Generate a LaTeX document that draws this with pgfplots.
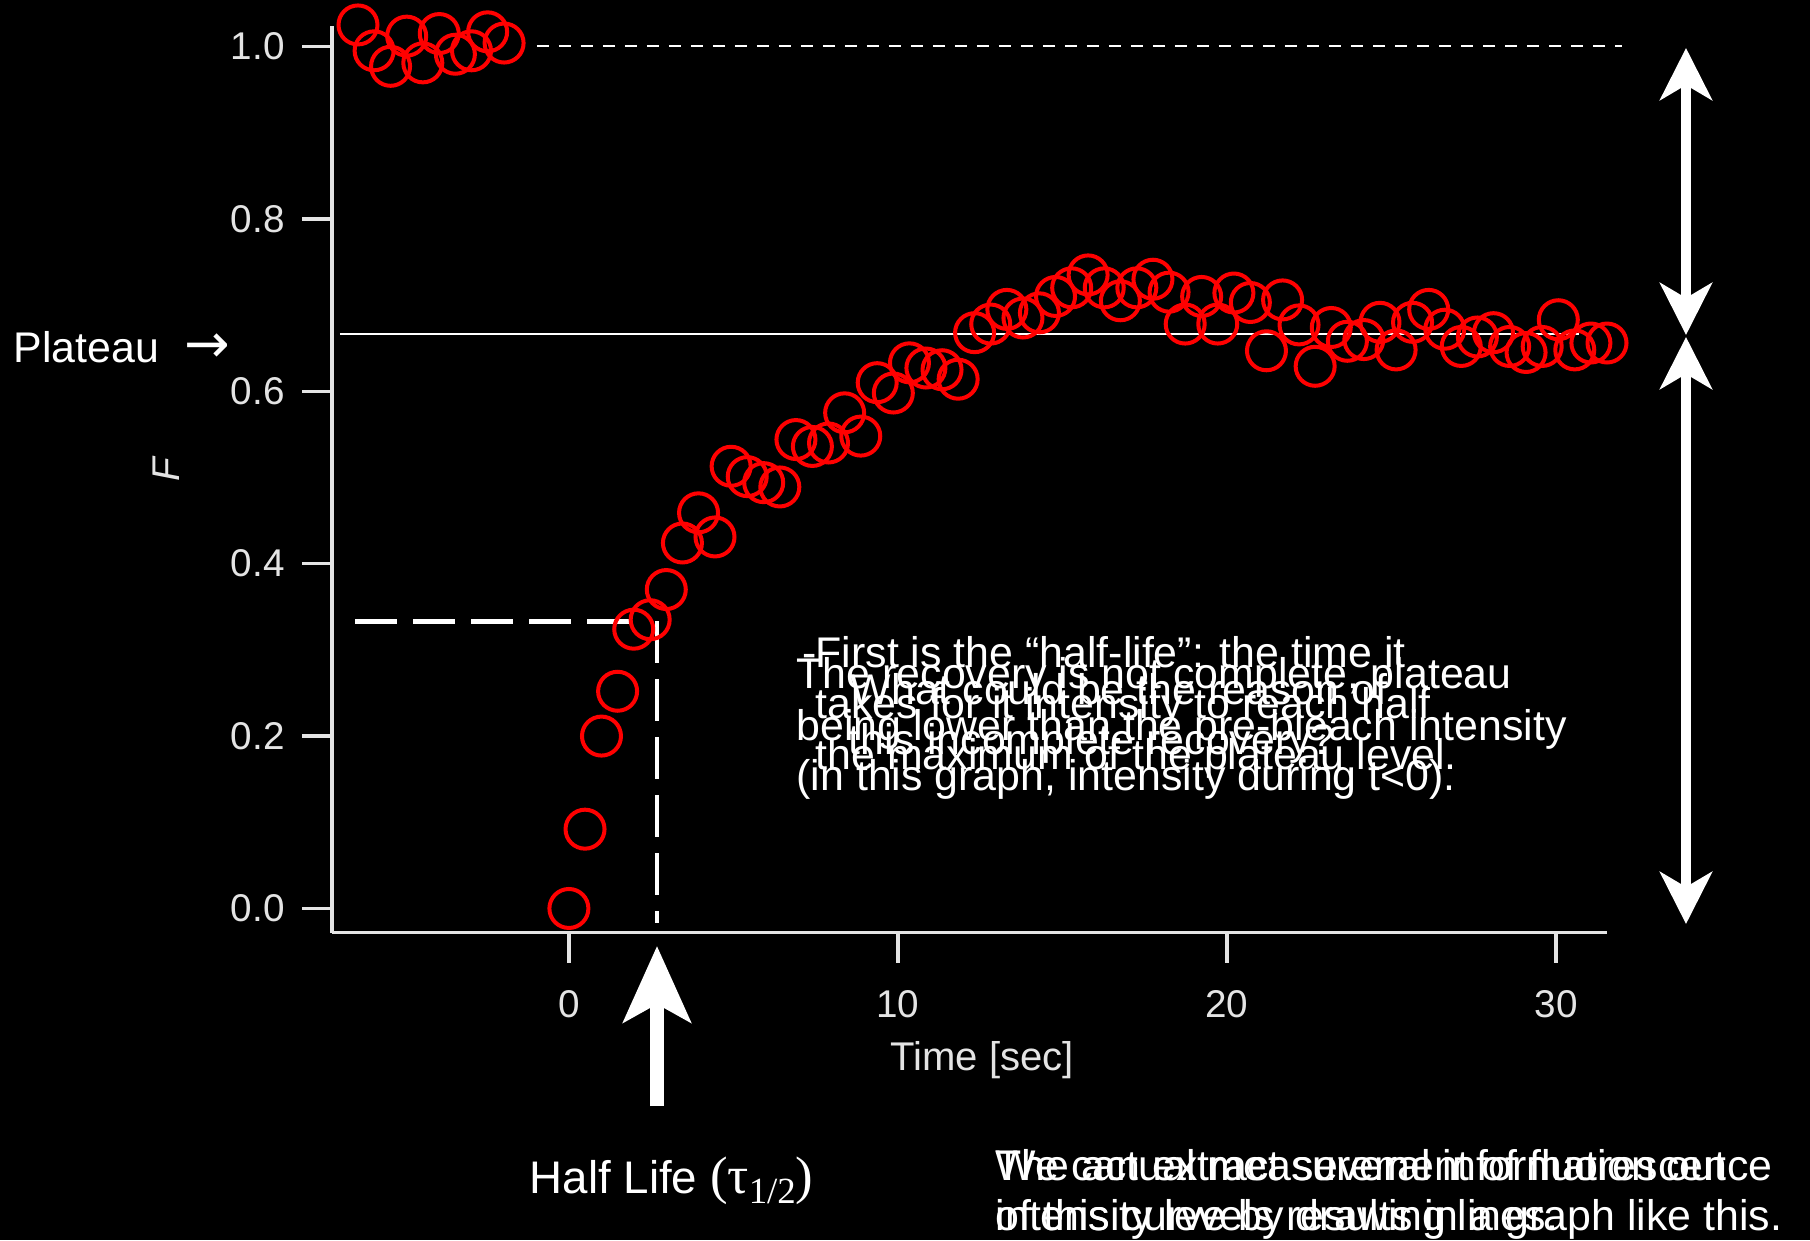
\documentclass[border=0pt]{standalone}
\usepackage{fontspec}
\setmainfont{Liberation Sans}
\newfontfamily\seriffont{Liberation Serif}
\newfontfamily\arrowfont{DejaVu Sans}
\usepackage{pgfplots}
\pgfplotsset{compat=1.18}
\usetikzlibrary{arrows.meta}
\definecolor{tickgray}{RGB}{228,228,228}
\newcommand{\bigtxt}{\fontsize{12.2}{14.6}\selectfont}
\begin{document}
\begin{tikzpicture}[x=1cm,y=1cm]
\fill[black] (0,0) rectangle (18.1,12.4);
\useasboundingbox (0,0) rectangle (18.1,12.4);
\begin{axis}[
  at={(3.32cm,3.074cm)}, anchor=south west,
  scale only axis, width=12.75cm, height=9.068cm,
  xmin=-7.2, xmax=31.55, ymin=-0.028, ymax=1.024,
  axis x line=bottom, axis y line=left,
  axis line style={draw=tickgray, line width=0.35mm, -},
  tick align=outside, major tick length=3mm,
  tick style={draw=tickgray, line width=0.35mm},
  xtick={0,10,20,30}, ytick={0,0.2,0.4,0.6,0.8,1.0},
  minor tick num=0,
  /pgf/number format/assume math mode=true,
  yticklabel style={/pgf/number format/fixed, /pgf/number format/fixed zerofill, /pgf/number format/precision=1, xshift=-0.5mm},
  ticklabel style={font=\fontsize{11}{13}\selectfont, text=tickgray},
  xticklabel style={yshift=-1.5mm},
  clip=false,
  xlabel={Time [sec]}, ylabel={\textit{F}},
  xlabel style={at={(axis description cs:0.51,-0.141)}, anchor=center, font=\fontsize{11.4}{13}\selectfont, text=tickgray},
  ylabel style={at={(axis description cs:-0.130,0.512)}, anchor=center, font=\fontsize{11}{13}\selectfont, text=tickgray},
]
\addplot[only marks, mark=o, mark size=1.95mm, mark options={draw=red, line width=0.4mm}] coordinates {
(-6.41,1.025) (-5.92,0.995) (-5.42,0.977) (-4.93,1.012) (-4.44,0.981)
(-3.94,1.015) (-3.45,0.991) (-2.96,0.995) (-2.47,1.017) (-1.97,1.004)
(0,0.000) (0.49,0.092) (0.99,0.200) (1.48,0.252) (1.97,0.324)
(2.47,0.335) (2.96,0.370) (3.45,0.424) (3.94,0.459) (4.44,0.431)
(4.93,0.513) (5.42,0.501) (5.92,0.494) (6.41,0.489) (6.90,0.544)
(7.40,0.536) (7.89,0.540) (8.38,0.575) (8.87,0.548) (9.37,0.610)
(9.86,0.598) (10.35,0.633) (10.85,0.627) (11.34,0.625) (11.83,0.614)
(12.33,0.668) (12.82,0.678) (13.31,0.695) (13.80,0.685) (14.30,0.691)
(14.79,0.710) (15.28,0.720) (15.78,0.735) (16.27,0.720) (16.76,0.705)
(17.26,0.720) (17.75,0.730) (18.24,0.715) (18.73,0.678) (19.23,0.710)
(19.72,0.678) (20.21,0.714) (20.71,0.703) (21.20,0.647) (21.69,0.706)
(22.19,0.677) (22.68,0.629) (23.17,0.674) (23.66,0.658) (24.16,0.660)
(24.65,0.680) (25.14,0.648) (25.64,0.680) (26.13,0.695) (26.62,0.672)
(27.12,0.652) (27.61,0.663) (28.10,0.668) (28.59,0.652) (29.09,0.645)
(29.58,0.652) (30.07,0.683) (30.57,0.648) (31.06,0.656) (31.55,0.656)
};
% plateau line
\draw[white, line width=0.2mm] (axis cs:-6.96,0.666) -- (axis cs:30.7,0.666);
% pre-bleach level
\draw[white, line width=0.2mm, dash pattern=on 1.2mm off 1mm] (axis cs:-0.97,1.0) -- (axis cs:32.0,1.0);
% half-life guides
\draw[white, line width=0.45mm, dash pattern=on 4.2mm off 1.6mm] (axis cs:-6.49,0.333) -- (axis cs:1.93,0.333);
\draw[white, line width=0.45mm, dash pattern=on 4.2mm off 1.6mm] (axis cs:2.67,0.333) -- (axis cs:2.67,-0.017);
\end{axis}
% arrows
\draw[white, line width=1mm, {Stealth[length=5.2mm,width=5.2mm,inset=1.5mm]}-{Stealth[length=5.2mm,width=5.2mm,inset=1.5mm]}] (16.86,11.92) -- (16.86,9.05);
\draw[white, line width=1mm, {Stealth[length=5.2mm,width=5.2mm,inset=1.5mm]}-{Stealth[length=5.2mm,width=5.2mm,inset=1.5mm]}] (16.86,9.03) -- (16.86,3.16);
\draw[white, line width=1.4mm, -{Stealth[length=7.6mm,width=6.7mm,inset=1.8mm]}] (6.57,1.34) -- (6.57,2.94);
% texts
\begin{scope}[every node/.style={anchor=base west, inner sep=0pt, text=white, font=\bigtxt}]
\node at (0.13,8.78) {Plateau};
\node at (1.84,8.78) {\arrowfont\fontsize{15.5}{16}\selectfont →};
\node at (5.29,0.47) {\fontsize{13}{15}\selectfont Half Life {\seriffont\fontsize{15}{17}\selectfont (τ\raisebox{-0.45ex}{\fontsize{10.5}{12}\selectfont 1/2})}};
% overlapping annotations
\node at (8.02,5.73) {-};
\node at (8.15,5.73) {First is the “half-life”: the time it};
\node at (8.15,5.22) {takes for it intensity to reach half};
\node at (8.15,4.71) {the maximum of the plateau level.};
\node at (7.96,5.52) {The recovery is not complete, plateau};
\node at (7.96,5.00) {being lower than the pre-bleach intensity};
\node at (7.96,4.50) {(in this graph, intensity during t<0).};
\node at (8.50,5.36) {What could be the reason of};
\node at (8.48,4.86) {this incomplete recovery?};
\node at (9.95,0.60) {We can extract several information out};
\node at (9.95,0.10) {of this curve by drawing lines.};
\node at (9.95,0.60) {The actual measurement of fluorescence};
\node at (9.95,0.10) {intensity levels results in a graph like this.};
\end{scope}
\end{tikzpicture}
\end{document}
